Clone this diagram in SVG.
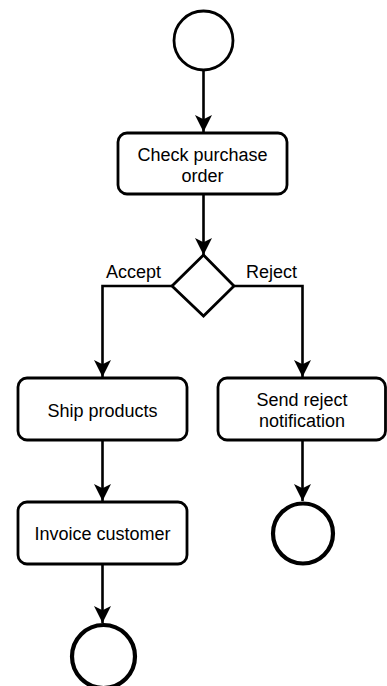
<svg xmlns="http://www.w3.org/2000/svg" width="387" height="686" viewBox="0 0 387 686">
  <defs>
    <style>
      .act { fill: #ffffff; stroke: #000000; stroke-width: 2.8; }
      .start { fill: #ffffff; stroke: #000000; stroke-width: 2.8; }
      .end { fill: #ffffff; stroke: #000000; stroke-width: 4.2; }
      .edge { fill: none; stroke: #000000; stroke-width: 2.6; }
      text { font-family: "Liberation Sans", Arial, Helvetica, sans-serif; font-size: 18px; fill: #000000; }
      .c { text-anchor: middle; }
    </style>
    <marker id="arrow" markerUnits="userSpaceOnUse" viewBox="0 0 16 16" refX="16" refY="8" markerWidth="17" markerHeight="17" orient="auto">
      <path d="M0,0 L16,8 L0,16 L4,8 Z" fill="#000000"/>
    </marker>
  </defs>
  <rect width="387" height="686" fill="#ffffff"/>

  <!-- connectors -->
  <g id="connectors">
    <path class="edge" d="M203.5,70 V132" marker-end="url(#arrow)"/>
    <path class="edge" d="M203.5,194 V255" marker-end="url(#arrow)"/>
    <path class="edge" d="M172,286 H102.5 V377" marker-end="url(#arrow)"/>
    <path class="edge" d="M234,286 H302.5 V377" marker-end="url(#arrow)"/>
    <path class="edge" d="M102.5,440 V501" marker-end="url(#arrow)"/>
    <path class="edge" d="M102.5,564 V623" marker-end="url(#arrow)"/>
    <path class="edge" d="M302.5,440 V501" marker-end="url(#arrow)"/>
    <text x="106" y="278">Accept</text>
    <text x="246" y="278">Reject</text>
  </g>

  <!-- initial state -->
  <g id="start">
    <circle class="start" cx="203.5" cy="40.5" r="29.5"/>
  </g>

  <!-- Check purchase order -->
  <g id="check-order">
    <rect class="act" x="118" y="133" width="169" height="61" rx="9" ry="9"/>
    <text class="c" x="202.5" y="161">Check purchase</text>
    <text class="c" x="202.5" y="182">order</text>
  </g>

  <!-- decision -->
  <g id="decision">
    <path class="act" d="M203.5,255 L234,286 L203.5,316 L172,286 Z"/>
  </g>

  <!-- Ship products -->
  <g id="ship-products">
    <rect class="act" x="18" y="378" width="169" height="62" rx="9" ry="9"/>
    <text class="c" x="102.5" y="417">Ship products</text>
  </g>

  <!-- Send reject notification -->
  <g id="send-reject">
    <rect class="act" x="218" y="378" width="167.5" height="62" rx="9" ry="9"/>
    <text class="c" x="302" y="406">Send reject</text>
    <text class="c" x="302" y="427">notification</text>
  </g>

  <!-- Invoice customer -->
  <g id="invoice-customer">
    <rect class="act" x="18" y="502" width="169" height="62" rx="9" ry="9"/>
    <text class="c" x="102.5" y="540">Invoice customer</text>
  </g>

  <!-- final states -->
  <g id="end-reject">
    <circle class="end" cx="303" cy="533.5" r="30"/>
  </g>
  <g id="end-accept">
    <circle class="end" cx="103.5" cy="656.5" r="31.5"/>
  </g>
</svg>
